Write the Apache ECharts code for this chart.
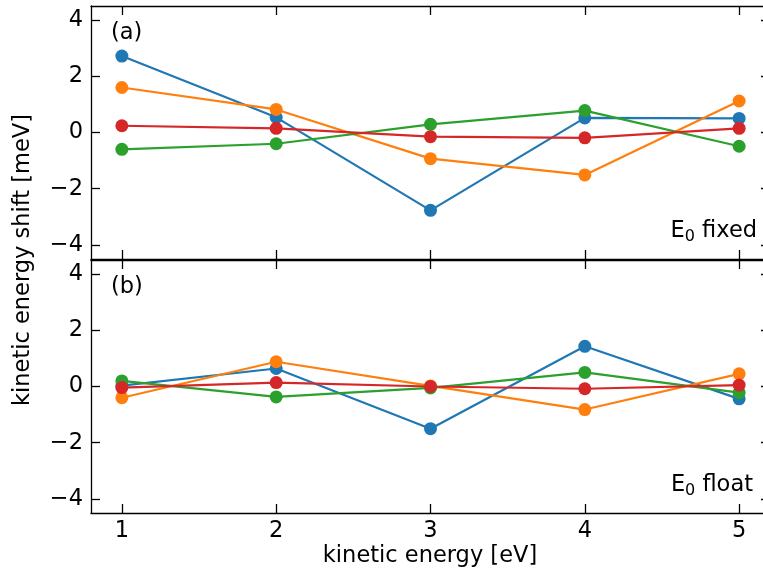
<!DOCTYPE html>
<html>
<head>
<meta charset="utf-8">
<script src="https://cdn.jsdelivr.net/npm/echarts@6/dist/echarts.min.js"></script>
<style>
  html, body { margin: 0; padding: 0; background: #ffffff; }
  #chart { width: 763px; height: 573px; }
</style>
</head>
<body>
<div id="chart"></div>
<script>
// Kinetic energy points (eV)
const energies = [1, 2, 3, 4, 5];

// (a) E0 fixed: kinetic energy shift (meV)
const fixedBlue   = [2.72, 0.54, -2.77, 0.52, 0.50];
const fixedOrange = [1.60, 0.82, -0.93, -1.51, 1.12];
const fixedGreen  = [-0.60, -0.40, 0.29, 0.78, -0.49];
const fixedRed    = [0.24, 0.15, -0.15, -0.19, 0.15];

// (b) E0 float: kinetic energy shift (meV)
const floatBlue   = [0.03, 0.64, -1.50, 1.43, -0.44];
const floatOrange = [-0.40, 0.88, 0.02, -0.82, 0.45];
const floatGreen  = [0.20, -0.37, -0.05, 0.50, -0.22];
const floatRed    = [-0.04, 0.14, 0.00, -0.08, 0.05];

// Tick labels
const xTicks = [1, 2, 3, 4, 5];
const yTicks = [-4, -2, 0, 2, 4];

const panelLabels = ['(a)', '(b)'];
const panelNotes = ['fixed', 'float'];
const xTitle = 'kinetic energy [eV]';
const yTitle = 'kinetic energy shift [meV]';

const FONT = '"DejaVu Sans", sans-serif';
const FS = 22.5;
const colors = ['#1f77b4', '#ff7f0e', '#2ca02c', '#d62728'];

const chart = echarts.init(document.getElementById('chart'), null, { renderer: 'canvas' });

const fmt = v => (v < 0 ? '\u2212' + Math.abs(v) : String(v));
const frameLine = { color: '#000', width: 1.3 };

// Two stacked panels sharing the x range; the frame runs a little past the right edge
const grids = [
  { left: 91, top: 6, width: 679, height: 253, outerBoundsMode: 'none', containLabel: false },
  { left: 91, top: 260, width: 679, height: 253, outerBoundsMode: 'none', containLabel: false }
];

const xAxes = [];
const yAxes = [];
grids.forEach((g, i) => {
  ['bottom', 'top'].forEach(pos => {
    xAxes.push({
      type: 'value', gridIndex: i, position: pos, min: 0.8, max: 5.2,
      axisLine: { show: true, onZero: false, lineStyle: frameLine },
      axisTick: { show: true, inside: true, length: 9, customValues: xTicks, lineStyle: frameLine },
      axisLabel: {
        show: i === 1 && pos === 'bottom', customValues: xTicks, margin: 7,
        color: '#000', fontFamily: FONT, fontSize: FS, formatter: fmt
      },
      splitLine: { show: false }
    });
  });
  ['left', 'right'].forEach(pos => {
    yAxes.push({
      type: 'value', gridIndex: i, position: pos, min: -4.5, max: 4.5,
      axisLine: { show: true, onZero: false, lineStyle: frameLine },
      axisTick: { show: true, inside: true, length: 9, customValues: yTicks, lineStyle: frameLine },
      axisLabel: {
        show: pos === 'left', customValues: yTicks, margin: 8,
        color: '#000', fontFamily: FONT, fontSize: FS, formatter: fmt
      },
      splitLine: { show: false }
    });
  });
});

const panels = [
  [fixedBlue, fixedOrange, fixedGreen, fixedRed],
  [floatBlue, floatOrange, floatGreen, floatRed]
];

const series = [];
panels.forEach((sets, p) => {
  sets.forEach((vals, k) => {
    series.push({
      type: 'line',
      xAxisIndex: p * 2,
      yAxisIndex: p * 2,
      data: energies.map((x, j) => [x, vals[j]]),
      symbol: 'circle',
      symbolSize: 13,
      showSymbol: true,
      lineStyle: { color: colors[k], width: 2.2 },
      itemStyle: { color: colors[k] },
      emphasis: { disabled: true },
      animation: false
    });
  });
});

const graphic = [];
panelLabels.forEach((t, i) => {
  graphic.push({
    type: 'text', x: 111, y: grids[i].top + 27,
    style: { text: t, font: FS + 'px ' + FONT, fill: '#000', textVerticalAlign: 'middle' }
  });
});
panelNotes.forEach((t, i) => {
  graphic.push({
    type: 'text', x: i === 0 ? 757 : 753, y: grids[i].top + grids[i].height - 28,
    style: {
      text: '{e|E}{s|0}{e| ' + t + '}',
      align: 'right', verticalAlign: 'middle',
      rich: {
        e: { fontFamily: FONT, fontSize: FS, lineHeight: 28, fill: '#000', verticalAlign: 'middle' },
        s: { fontFamily: FONT, fontSize: 16, lineHeight: 28, fill: '#000', verticalAlign: 'bottom' }
      }
    }
  });
});
graphic.push({
  type: 'text', x: 430, y: 556,
  style: { text: xTitle, font: FS + 'px ' + FONT, fill: '#000', textAlign: 'center', textVerticalAlign: 'middle' }
});
graphic.push({
  type: 'text', x: 23, y: 260, rotation: Math.PI / 2,
  style: { text: yTitle, font: FS + 'px ' + FONT, fill: '#000', textAlign: 'center', textVerticalAlign: 'middle' }
});

chart.setOption({
  animation: false,
  backgroundColor: '#ffffff',
  grid: grids,
  xAxis: xAxes,
  yAxis: yAxes,
  series: series,
  graphic: graphic
});
</script>
</body>
</html>
